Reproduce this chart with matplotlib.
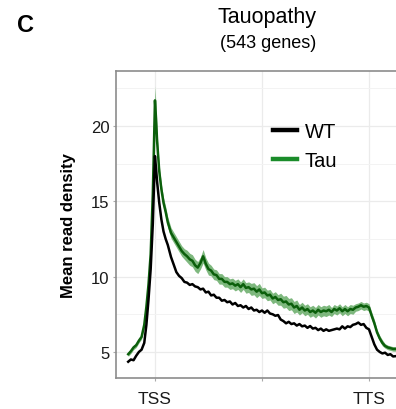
import matplotlib
matplotlib.use("Agg")
import matplotlib.pyplot as plt
from matplotlib.ticker import MultipleLocator
from matplotlib.lines import Line2D

plt.rcParams['font.family'] = ['Liberation Sans', 'DejaVu Sans']

# position along the gene body (% of TSS->TTS)
pos = [-12.5, -11.25, -10, -8.75, -7.5, -6.25, -5, -4, -3, -2, -1, -0.5, 0, 0.5, 1, 2, 3, 4, 5, 6,
       7.5, 8.75, 10, 11.25, 12.5, 13.75, 15, 16.25, 17.5, 18.75, 20, 21.25, 22.5, 23.75, 25, 26.25,
       27.5, 28.75, 30, 31.25, 32.5, 33.75, 35, 36.25, 37.5, 38.75, 40, 41.25, 42.5, 43.75, 45, 46.25,
       47.5, 48.75, 50, 51.25, 52.5, 53.75, 55, 56.25, 57.5, 58.75, 60, 61.25, 62.5, 63.75, 65, 66.25,
       67.5, 68.75, 70, 71.25, 72.5, 73.75, 75, 76.25, 77.5, 78.75, 80, 81.25, 82.5, 83.75, 85, 86.25,
       87.5, 88.75, 90, 91.25, 92.5, 93.75, 95, 96.25, 97.5, 98.75, 100, 101.25, 102.5, 103.75, 105,
       106.25, 107.5, 108.75, 110, 111.25, 112.5]

wt = [4.35, 4.5, 4.45, 4.75, 5.0, 5.15, 5.6, 6.8, 8.5, 10.5, 13.5, 15.8, 18.0, 17.2, 16.3, 14.9, 13.8, 13.0, 12.5, 12.1,
      11.3, 10.8, 10.3, 10.05, 9.9, 9.65, 9.6, 9.45, 9.5, 9.35, 9.3, 9.15, 9.2, 8.95, 9.0, 8.75,
      8.8, 8.6, 8.6, 8.4, 8.45, 8.3, 8.35, 8.15, 8.25, 8.05, 8.1, 7.95, 8.05, 7.85, 7.95, 7.75,
      7.8, 7.65, 7.75, 7.6, 7.75, 7.55, 7.5, 7.4, 7.45, 7.15, 7.05, 6.9, 7.0, 6.85, 6.9, 6.75,
      6.85, 6.7, 6.75, 6.6, 6.72, 6.55, 6.6, 6.45, 6.55, 6.4, 6.5, 6.4, 6.45, 6.5, 6.55, 6.5,
      6.7, 6.55, 6.7, 6.65, 6.8, 6.85, 6.95, 6.8, 6.85, 6.6, 6.5, 6.0, 5.5, 5.15, 5.0,
      4.9, 4.95, 4.8, 4.85, 4.7, 4.72]

tau = [4.85, 5.05, 5.3, 5.45, 5.75, 6.0, 6.8, 8.0, 9.5, 11.5, 15.5, 18.5, 21.7, 20.5, 19.0, 17.0, 15.8, 14.9, 14.3, 13.6,
       12.9, 12.6, 12.3, 12.0, 11.7, 11.5, 11.35, 11.15, 11.05, 10.75, 10.6, 10.9, 11.35, 10.85, 10.5, 10.4,
       10.15, 10.1, 9.85, 9.85, 9.65, 9.65, 9.5, 9.55, 9.4, 9.5, 9.3, 9.5, 9.25, 9.3, 9.15, 9.2,
       9.0, 9.15, 8.9, 8.95, 8.75, 8.8, 8.55, 8.65, 8.45, 8.5, 8.3, 8.35, 8.15, 8.2, 7.95, 8.05,
       7.8, 7.95, 7.75, 7.85, 7.65, 7.75, 7.6, 7.8, 7.65, 7.75, 7.7, 7.8, 7.65, 7.85, 7.75, 7.9,
       7.7, 7.85, 7.7, 7.85, 7.8, 7.95, 8.0, 8.1, 8.0, 8.05, 7.95, 7.4, 6.9, 6.3, 5.9,
       5.6, 5.4, 5.3, 5.25, 5.2, 5.2]

tau_se = [0.15, 0.15, 0.15, 0.15, 0.15, 0.15, 0.2, 0.25, 0.3, 0.4, 0.6, 0.8, 0.95, 0.8, 0.6, 0.4, 0.35, 0.35, 0.35, 0.35,
          0.35, 0.35, 0.35, 0.35, 0.35, 0.35, 0.4, 0.4, 0.4, 0.4, 0.4, 0.4, 0.45, 0.4, 0.4, 0.35,
          0.35, 0.35, 0.35, 0.35, 0.35, 0.35, 0.35, 0.35, 0.35, 0.35, 0.35, 0.35, 0.35, 0.35, 0.4, 0.4,
          0.4, 0.4, 0.35, 0.35, 0.35, 0.35, 0.35, 0.35, 0.35, 0.4, 0.4, 0.4, 0.4, 0.4, 0.4, 0.4,
          0.35, 0.35, 0.35, 0.35, 0.35, 0.35, 0.35, 0.35, 0.35, 0.35, 0.35, 0.35, 0.3, 0.3, 0.3, 0.3,
          0.3, 0.3, 0.3, 0.3, 0.3, 0.25, 0.25, 0.25, 0.25, 0.25, 0.25, 0.25, 0.25, 0.2, 0.2,
          0.2, 0.15, 0.15, 0.15, 0.15, 0.15]

xtick_pos = [0, 50, 100]
xtick_labels = ['TSS', '', 'TTS']
ytick_vals = [5, 10, 15, 20]

fig = plt.figure(figsize=(3.96, 4.10), dpi=100)
ax = fig.add_axes([116/396, 1 - 379/410, (408.6 - 116)/396, (379 - 72)/410])

green_line = '#0b5f0b'
green_band = '#5ea65e'

lo = [t - s for t, s in zip(tau, tau_se)]
hi = [t + s for t, s in zip(tau, tau_se)]
ax.fill_between(pos, lo, hi, color=green_band, alpha=0.8, lw=0, zorder=2)
ax.plot(pos, tau, color=green_line, lw=1.8, zorder=3)
ax.plot(pos, wt, color='black', lw=1.8, zorder=4)

ax.set_xlim(-18.2, 118.5)
ax.set_ylim(3.27, 23.65)
ax.set_xticks(xtick_pos)
ax.set_xticklabels(xtick_labels, fontsize=12.5, color='#1a1a1a')
ax.set_yticks(ytick_vals)
ax.set_yticklabels([str(v) for v in ytick_vals], fontsize=12, color='#1a1a1a')
ax.yaxis.set_minor_locator(MultipleLocator(2.5))
ax.grid(True, which='major', color='#ebebeb', lw=0.9, zorder=0)
ax.grid(True, which='minor', axis='y', color='#f3f3f3', lw=0.7, zorder=0)
ax.set_axisbelow(True)
ax.tick_params(axis='y', which='minor', length=0)
ax.tick_params(axis='both', which='major', length=2.5, color='#aaaaaa', width=0.8)
ax.tick_params(axis='y', pad=2)
ax.tick_params(axis='x', pad=7)
for s in ax.spines.values():
    s.set_color('#8c8c8c')
    s.set_linewidth(1.2)

handles = [Line2D([0], [0], color='black', lw=3.2),
           Line2D([0], [0], color='#1a8c2a', lw=3.2)]
ax.legend(handles, ['WT', 'Tau'], loc='upper left', bbox_to_anchor=(0.535, 0.834),
          frameon=False, fontsize=14.5, handlelength=1.2, handletextpad=0.4,
          labelspacing=0.5, borderaxespad=0, borderpad=0)

fig.text(68/396, 1 - 225.5/410, 'Mean read density', rotation=90, fontsize=12,
         fontweight='bold', ha='center', va='center')
fig.text(267/396, 1 - 18/410, 'Tauopathy', fontsize=15.5, ha='center', va='center')
fig.text(268/396, 1 - 43/410, '(543 genes)', fontsize=13, ha='center', va='center')
fig.text(25/396, 1 - 26/410, 'C', fontsize=17, fontweight='bold', ha='center', va='center')

fig.savefig('out.png', dpi=100)
